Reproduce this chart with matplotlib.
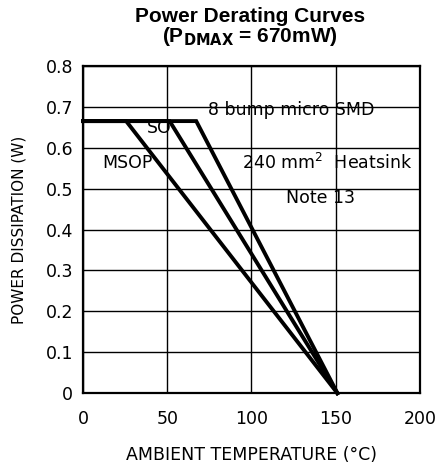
import matplotlib.pyplot as plt

# Derating curves: (temperature, power) breakpoints
msop_t = [0, 25.6, 151]
msop_p = [0.665, 0.665, 0]
so_t = [0, 51.4, 151]
so_p = [0.665, 0.665, 0]
smd_t = [0, 67.2, 151]
smd_p = [0.665, 0.665, 0]

x_ticks = [0, 50, 100, 150, 200]
y_ticks = [0, 0.1, 0.2, 0.3, 0.4, 0.5, 0.6, 0.7, 0.8]
y_labels = ['0', '0.1', '0.2', '0.3', '0.4', '0.5', '0.6', '0.7', '0.8']

plt.rcParams['font.family'] = ['DejaVu Sans']

fig = plt.figure(figsize=(4.37, 4.67), dpi=100)
ax = fig.add_axes([0.19, 0.158, 0.771, 0.701])

for t, p in [(msop_t, msop_p), (so_t, so_p), (smd_t, smd_p)]:
    ax.plot(t, p, color='black', lw=2.8, solid_joinstyle='miter', clip_on=False, zorder=3)

ax.set_xlim(0, 200)
ax.set_ylim(0, 0.8)
ax.set_xticks(x_ticks)
ax.set_yticks(y_ticks)
ax.set_yticklabels(y_labels)
ax.grid(True, color='black', lw=1.0)
ax.tick_params(length=0, labelsize=12.5)
ax.tick_params(axis='y', pad=7)
ax.tick_params(axis='x', pad=12)
for s in ax.spines.values():
    s.set_linewidth(1.6)

fs = 12.5
ax.text(73.9, 0.691, '8 bump micro SMD', fontsize=fs, va='center', ha='left')
ax.text(45.5, 0.648, 'SO', fontsize=fs, va='center', ha='center')
ax.text(26.1, 0.563, 'MSOP', fontsize=fs, va='center', ha='center')
ax.text(144.6, 0.563, r'240 mm$^2$  Heatsink', fontsize=fs, va='center', ha='center')
ax.text(141, 0.477, 'Note 13', fontsize=fs, va='center', ha='center')

ax.set_xlabel('AMBIENT TEMPERATURE (°C)', fontsize=12.5, labelpad=13)
ax.set_ylabel('POWER DISSIPATION (W)', fontsize=11, labelpad=14)

fig.text(0.572, 0.964, 'Power Derating Curves', ha='center', va='center',
         fontsize=15, fontweight='bold', family='Liberation Sans')
fig.text(0.572, 0.921, r'(P$_{\mathbf{DMAX}}$ = 670mW)', ha='center', va='center',
         fontsize=15, fontweight='bold', family='Liberation Sans')

fig.savefig('out.png', dpi=100)
